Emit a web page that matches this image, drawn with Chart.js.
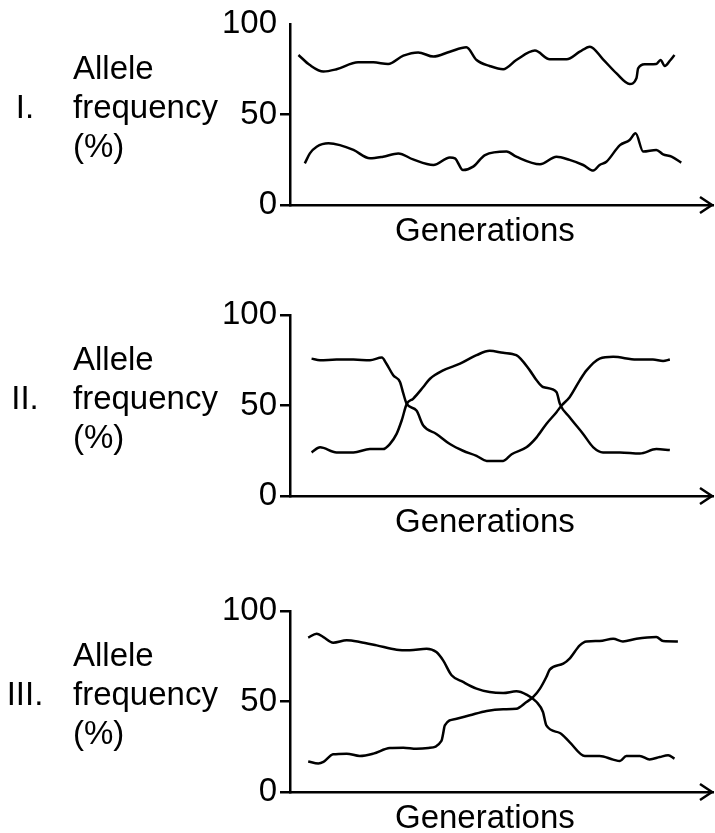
<!DOCTYPE html>
<html>
<head>
<meta charset="utf-8">
<script src="https://cdn.jsdelivr.net/npm/chart.js@4.4.1/dist/chart.umd.min.js"></script>
<style>
    body { margin: 0; background: #fff; width: 715px; height: 833px; overflow: hidden; position: relative;
           font-family: 'Liberation Sans', Arial, sans-serif; color: #000; }
    .panel { position: absolute; left: 0; width: 715px; height: 230px; }
    .panel canvas { position: absolute; left: 0; top: 0; }
    .roman { position: absolute; left: 0; top: 87px; width: 50px; text-align: center; font-size: 33px; line-height: 39px; }
    .ylabel { position: absolute; left: 73px; top: 48px; font-size: 33px; line-height: 39px; }
    .xlabel { position: absolute; left: 395px; top: 210px; font-size: 33px; line-height: 39px; }
</style>
</head>
<body>

<div class="panel" style="top:0px">
    <canvas id="chart1" width="715" height="230"></canvas>
    <div class="roman">I.</div>
    <div class="ylabel">Allele<br>frequency<br>(%)</div>
    <div class="xlabel">Generations</div>
</div>
<div class="panel" style="top:291px">
    <canvas id="chart2" width="715" height="230"></canvas>
    <div class="roman">II.</div>
    <div class="ylabel">Allele<br>frequency<br>(%)</div>
    <div class="xlabel">Generations</div>
</div>
<div class="panel" style="top:587px">
    <canvas id="chart3" width="715" height="230"></canvas>
    <div class="roman">III.</div>
    <div class="ylabel">Allele<br>frequency<br>(%)</div>
    <div class="xlabel">Generations</div>
</div>

<script>
// --- DATA (generations 0-100 along the arrow, allele frequency in %) ---
const yTicks = [0, 50, 100];

// Panel I: random drift, two alleles wandering
const gen1A  = [2.0, 4.7, 7.9, 11.0, 16.1, 19.7, 23.2, 26.8, 30.3, 33.9, 37.8, 41.7, 44.1, 47.2, 50.4, 53.5, 57.9, 61.4, 65.4, 68.5, 70.9, 74.0, 77.2, 80.3, 81.9, 82.3, 83.9, 86.6, 87.6, 88.6, 89.8, 90.9];
const freq1A = [82.9, 77.3, 73.7, 75.0, 78.8, 78.8, 77.9, 82.5, 84.3, 82.0, 84.7, 87.1, 80.1, 76.8, 75.0, 80.1, 85.3, 80.5, 80.5, 84.7, 87.5, 80.5, 72.7, 66.9, 70.0, 75.5, 77.7, 77.9, 80.1, 76.8, 79.7, 82.9];
const gen1B  = [3.5, 4.7, 6.3, 9.1, 11.8, 15.0, 18.9, 22.0, 25.6, 29.1, 33.9, 37.8, 39.0, 40.9, 43.3, 46.1, 51.2, 53.5, 59.1, 63.0, 66.1, 69.3, 71.7, 73.2, 74.8, 78.0, 80.3, 81.7, 83.5, 86.6, 88.2, 90.2, 92.5];
const freq1B = [23.0, 28.5, 32.2, 34.1, 33.1, 30.4, 25.8, 26.7, 28.5, 25.2, 22.1, 26.3, 25.8, 19.3, 21.2, 27.6, 29.5, 26.7, 22.5, 26.7, 24.9, 22.1, 19.0, 22.1, 23.9, 33.1, 35.9, 39.6, 29.5, 30.4, 28.0, 26.7, 23.4];

// Panel II: alleles swap and swap back
const gen2A  = [5.1, 7.1, 11.0, 15.0, 18.9, 21.7, 22.8, 24.4, 26.0, 26.8, 27.6, 29.9, 31.5, 34.6, 37.8, 40.9, 44.1, 46.5, 50.4, 52.4, 55.9, 58.3, 60.6, 63.0, 64.2, 66.1, 68.5, 70.1, 73.2, 76.4, 81.9, 85.8, 88.2, 89.8];
const freq2A = [75.9, 75.0, 75.4, 75.4, 75.0, 76.5, 73.1, 66.7, 63.0, 56.5, 50.9, 47.2, 38.9, 34.3, 28.7, 25.0, 22.2, 19.4, 19.4, 23.1, 26.9, 32.4, 39.8, 46.3, 50.0, 54.6, 63.9, 69.4, 75.9, 76.9, 75.4, 75.4, 74.6, 75.4];
const gen2B  = [5.1, 7.1, 11.0, 15.0, 18.9, 22.0, 23.6, 25.2, 26.4, 27.6, 29.1, 31.5, 33.1, 36.2, 40.2, 44.1, 47.2, 50.4, 53.5, 56.7, 58.3, 59.8, 63.0, 63.8, 66.1, 69.3, 71.7, 74.0, 78.0, 82.7, 86.6, 89.8];
const freq2B = [24.1, 26.9, 24.1, 24.1, 25.9, 25.9, 28.7, 34.3, 41.7, 50.9, 53.7, 60.2, 64.8, 69.4, 73.1, 77.8, 80.2, 79.1, 77.8, 69.4, 63.9, 60.2, 57.4, 50.9, 43.5, 34.3, 26.9, 24.1, 24.1, 23.5, 25.9, 25.4];

// Panel III: one allele replaces the other
const gen3A  = [4.3, 6.3, 7.9, 10.2, 13.4, 16.5, 20.5, 25.2, 28.3, 32.3, 34.6, 36.2, 38.2, 40.9, 44.1, 47.2, 50.4, 53.5, 55.9, 58.3, 59.8, 60.6, 63.8, 66.1, 69.7, 73.2, 76.4, 78.0, 79.5, 82.7, 85.0, 87.4, 89.4, 90.9];
const freq3A = [85.3, 87.5, 85.6, 82.5, 83.8, 82.9, 81.0, 78.6, 78.3, 79.2, 77.3, 72.7, 64.5, 60.8, 57.1, 55.2, 54.7, 55.6, 53.8, 49.7, 44.2, 36.8, 32.6, 27.6, 19.9, 19.9, 17.9, 17.1, 19.9, 19.9, 18.0, 19.3, 20.3, 18.4];
const gen3B  = [4.3, 6.7, 7.9, 10.2, 13.4, 16.5, 19.7, 23.6, 26.8, 29.9, 32.7, 35.8, 36.2, 36.6, 39.4, 42.5, 46.5, 50.4, 53.5, 55.9, 57.5, 59.1, 60.6, 61.4, 64.6, 66.1, 68.5, 70.1, 73.2, 76.4, 78.7, 81.9, 86.6, 88.2, 91.7];
const freq3B = [16.9, 15.7, 16.6, 20.8, 21.2, 19.9, 21.2, 24.3, 24.5, 23.9, 24.3, 28.2, 32.2, 36.8, 40.5, 42.4, 44.8, 45.7, 46.0, 49.7, 52.5, 57.1, 63.5, 67.6, 70.9, 73.7, 81.0, 83.2, 83.4, 84.7, 83.2, 84.7, 85.6, 83.4, 83.2];

const FONT = "'Liberation Sans', Arial, sans-serif";

// open arrow head at the end of the x axis
const arrowPlugin = {
    id: 'arrowHead',
    afterDraw(chart) {
        const { ctx, chartArea } = chart;
        const tipX = chartArea.right - 1;
        const y = chartArea.bottom;
        ctx.save();
        ctx.strokeStyle = '#000';
        ctx.lineWidth = 2.5;
        ctx.beginPath();
        ctx.moveTo(tipX - 12, y - 8);
        ctx.lineTo(tipX, y);
        ctx.lineTo(tipX - 12, y + 8);
        ctx.stroke();
        ctx.restore();
    }
};

function toPoints(xs, ys) {
    return xs.map((x, i) => ({ x: x, y: ys[i] }));
}

function buildPanel(canvasId, lines, showTopTick) {
    const ctx = document.getElementById(canvasId);
    return new Chart(ctx, {
        type: 'line',
        data: {
            datasets: lines.map(l => ({
                data: toPoints(l[0], l[1]),
                borderColor: '#000',
                borderWidth: 2.5,
                pointRadius: 0,
                cubicInterpolationMode: 'monotone',
                fill: false
            }))
        },
        options: {
            responsive: false,
            animation: false,
            devicePixelRatio: 1,
            layout: { padding: { top: 24, right: 2, left: 0, bottom: 0 } },
            plugins: { legend: { display: false }, tooltip: { enabled: false } },
            scales: {
                x: {
                    type: 'linear', min: 0, max: 100,
                    ticks: { display: false },
                    grid: { display: false },
                    border: { display: true, color: '#000', width: 2.5 },
                    afterFit: s => { s.height = 25; }
                },
                y: {
                    min: 0, max: 100,
                    afterBuildTicks: s => { s.ticks = yTicks.map(v => ({ value: v })); },
                    ticks: { color: '#000', padding: 3, font: { family: FONT, size: 33 } },
                    grid: {
                        drawOnChartArea: false,
                        drawTicks: true,
                        tickLength: 10,
                        lineWidth: 2.5,
                        // panel I has no tick mark at 100
                        color: c => (c.tick && c.tick.value === 100 && !showTopTick) ? 'rgba(0,0,0,0)' : '#000'
                    },
                    border: { display: true, color: '#000', width: 2.5 },
                    afterFit: s => { s.width = 290; }
                }
            }
        },
        plugins: [arrowPlugin]
    });
}

buildPanel('chart1', [[gen1A, freq1A], [gen1B, freq1B]], false);
buildPanel('chart2', [[gen2A, freq2A], [gen2B, freq2B]], true);
buildPanel('chart3', [[gen3A, freq3A], [gen3B, freq3B]], true);
</script>
</body>
</html>
